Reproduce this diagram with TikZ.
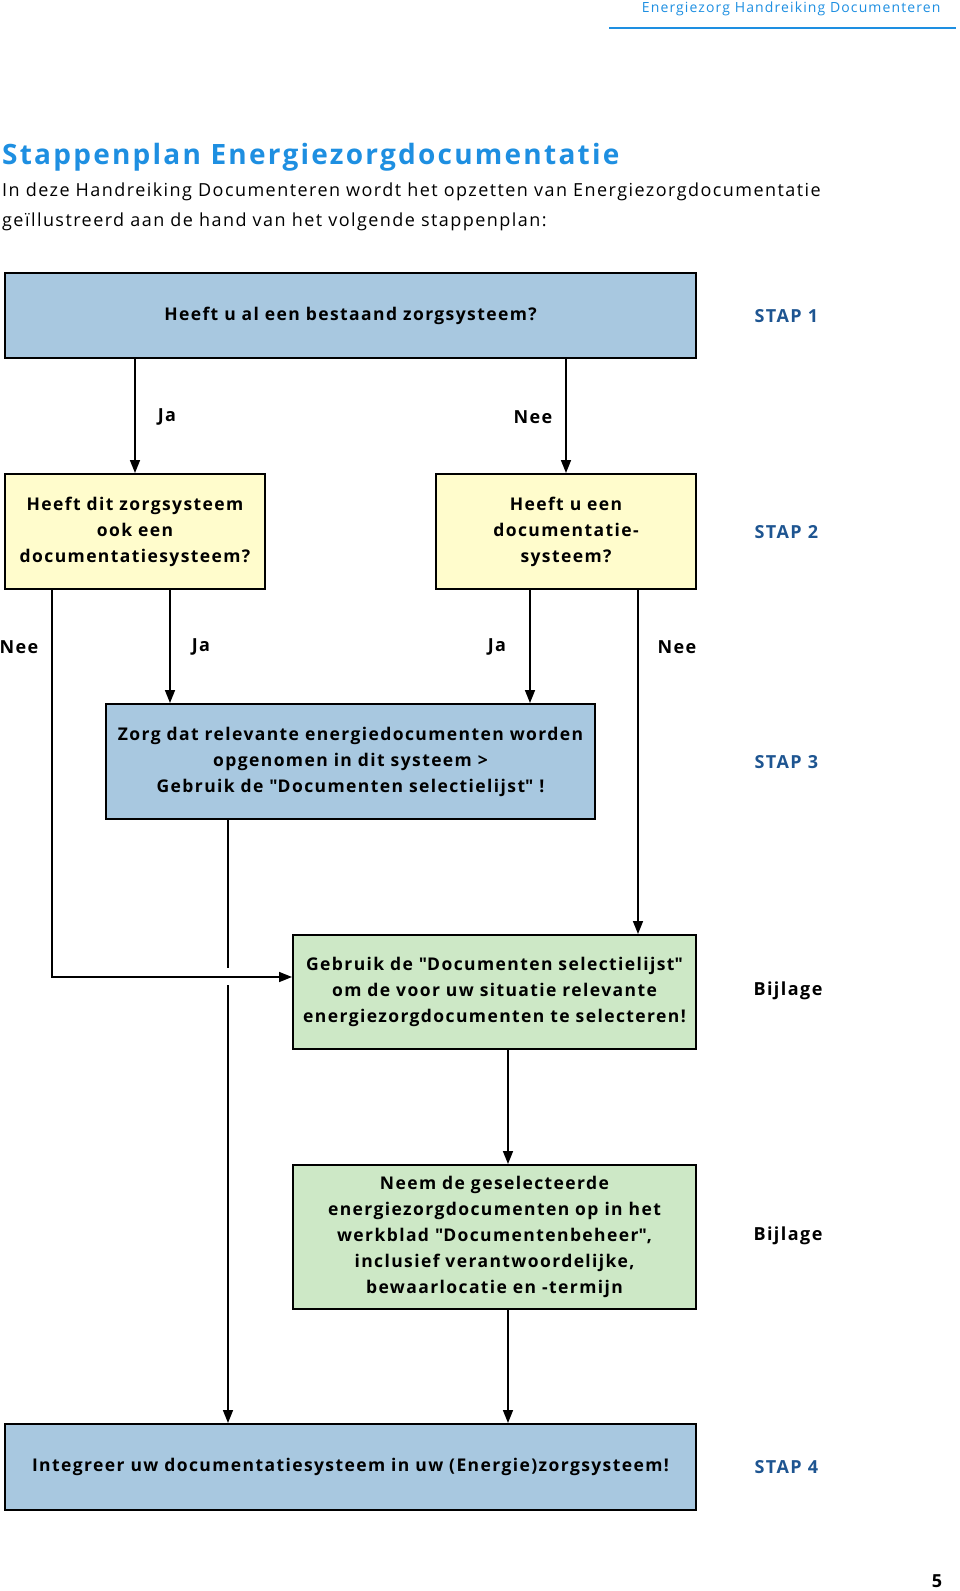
\documentclass[tikz,border=0pt]{standalone}
\usepackage{fontspec}
\setmainfont{Open Sans}[LetterSpace=8]
\usepackage{tikz}
\usetikzlibrary{arrows.meta}
\definecolor{vakblauw}{HTML}{A8C8E0}
\definecolor{vakgeel}{HTML}{FFFCCC}
\definecolor{vakgroen}{HTML}{CDE8C6}
\definecolor{titelblauw}{HTML}{1E8FE1}
\definecolor{stapblauw}{HTML}{1E5591}
\newcommand{\aanh}{\textquotedbl}

\begin{document}
\begin{tikzpicture}[x=1pt,y=-1pt,
        >={Triangle[length=13pt,width=10pt]},
        vak/.style={draw=black,line width=2pt,inner sep=0pt,align=center,
            font=\bfseries\fontsize{17.5}{26}\selectfont},
        blauw/.style={vak,fill=vakblauw},
        geel/.style={vak,fill=vakgeel,minimum width=260pt,minimum height=115pt},
        groen/.style={vak,fill=vakgroen,minimum width=403pt},
        pijl/.style={line width=1.6pt},
        antw/.style={font=\bfseries\fontsize{18}{20}\selectfont},
        stap/.style={anchor=west,text=stapblauw,font=\bfseries\fontsize{18}{20}\selectfont},
        bijlage/.style={anchor=west,font=\bfseries\fontsize{18}{20}\selectfont}]
        \useasboundingbox (0,0) rectangle (960,1591);
        \node[anchor=east,text=titelblauw,font=\fontsize{14}{16}\selectfont] (kop) at (944,9) {Energiezorg Handreiking Documenteren};
        \draw[titelblauw,line width=2pt] (609,28) -- (956,28);
        \node[anchor=west,text=titelblauw,inner sep=0pt,font=\bfseries\fontsize{28}{32}\selectfont] (titel) at (2,157) {Stappenplan Energiezorgdocumentatie};
        \node[anchor=west,inner sep=0pt,font=\fontsize{18}{20}\selectfont] (intro1) at (2,192) {In deze Handreiking Documenteren wordt het opzetten van Energiezorgdocumentatie};
        \node[anchor=west,inner sep=0pt,font=\fontsize{18}{20}\selectfont] (intro2) at (2,222) {geïllustreerd aan de hand van het volgende stappenplan:};

        \node[blauw,minimum width=691pt,minimum height=85pt] (A) at (350.5,315.5) {Heeft u al een bestaand zorgsysteem?};
        \node[geel] (B) at (135,531.5) {Heeft dit zorgsysteem\\ook een\\documentatiesysteem?};
        \node[geel] (C) at (566,531.5) {Heeft u een\\documentatie-\\systeem?};
        \node[blauw,minimum width=489pt,minimum height=115pt] (D) at (350.5,761.5) {Zorg dat relevante energiedocumenten worden\\opgenomen in dit systeem >\\Gebruik de \aanh Documenten selectielijst\aanh{} !};
        \node[groen,minimum height=114pt] (E) at (494.5,992) {Gebruik de \aanh Documenten selectielijst\aanh\\om de voor uw situatie relevante\\energiezorgdocumenten te selecteren!};
        \node[groen,minimum height=144pt] (F) at (494.5,1237) {Neem de geselecteerde\\energiezorgdocumenten op in het\\werkblad \aanh Documentenbeheer\aanh,\\inclusief verantwoordelijke,\\bewaarlocatie en -termijn};
        \node[blauw,minimum width=691pt,minimum height=86pt] (G) at (350.5,1467) {Integreer uw documentatiesysteem in uw (Energie)zorgsysteem!};

        \node[stap] (S1) at (751,316) {STAP 1};
        \node[stap] (S2) at (751,532) {STAP 2};
        \node[stap] (S3) at (751,762) {STAP 3};
        \node[bijlage] (S4) at (750,991) {Bijlage};
        \node[bijlage] (S5) at (750,1236) {Bijlage};
        \node[stap] (S6) at (751,1467) {STAP 4};

        \node[antw] (a1) at (167,417) {Ja};
        \node[antw] (a2) at (533,417) {Nee};
        \node[antw] (a3) at (19,647) {Nee};
        \node[antw] (a4) at (201,647) {Ja};
        \node[antw] (a5) at (497,647) {Ja};
        \node[antw] (a6) at (677,647) {Nee};

        \coordinate (K) at (228,977);
        \draw[pijl,->] (A.south -| B) -- (B.north);
        \draw[pijl,->] (A.south -| C) -- (C.north);
        \draw[pijl,->] ([xshift=35pt]B.south) -- ([xshift=35pt]B.south |- D.north);
        \draw[pijl,->] ([xshift=-36pt]C.south) -- ([xshift=-36pt]C.south |- D.north);
        \draw[pijl,->] ([xshift=72pt]C.south) -- ([xshift=72pt]C.south |- E.north);
        \draw[pijl,->] ([xshift=-83pt]B.south) |- ([yshift=15pt]E.west);
        \draw[pijl,->] (D.south -| K) -- ([yshift=9pt]K) ([yshift=-8pt]K) -- (G.north -| K);
        \draw[pijl,->] ([xshift=13.5pt]E.south) -- ([xshift=13.5pt]E.south |- F.north);
        \draw[pijl,->] ([xshift=13.5pt]F.south) -- ([xshift=13.5pt]F.south |- G.north);

        \node[font=\bfseries\fontsize{18}{20}\selectfont] (nr) at (937,1581) {5};
    \end{tikzpicture}
\end{document}
